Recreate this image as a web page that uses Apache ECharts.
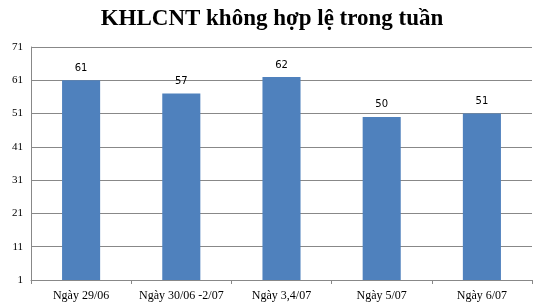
<!DOCTYPE html>
<html><head><meta charset="utf-8">
<script src="https://cdn.jsdelivr.net/npm/echarts@6/dist/echarts.min.js"></script>
<style>html,body{margin:0;padding:0;background:#fff}#c{width:544px;height:308px}</style>
</head><body><div id="c"></div>
<script>
const categories = ["Ngày 29/06", "Ngày 30/06 -2/07", "Ngày 3,4/07", "Ngày 5/07", "Ngày 6/07"];
const values = [61, 57, 62, 50, 51];
const title = "KHLCNT không hợp lệ trong tuần";
const chart = echarts.init(document.getElementById('c'));
chart.setOption({
  animation: false,
  title: {text: title, left: 'center', top: 3,
    textStyle: {fontFamily: 'Liberation Serif', fontSize: 23, fontWeight: 'bold', color: '#000'}},
  grid: {left: 31, right: 12, top: 47, bottom: 28},
  xAxis: {type: 'category', data: categories,
    axisLine: {lineStyle: {color: '#888'}},
    axisTick: {show: true, length: 4, lineStyle: {color: '#888'}},
    axisLabel: {interval: 0, fontFamily: 'Liberation Serif', fontSize: 12, color: '#000', margin: 10}},
  yAxis: {type: 'value', min: 1, max: 71, interval: 10,
    axisLine: {show: true, lineStyle: {color: '#888'}},
    axisTick: {show: false},
    splitLine: {lineStyle: {color: '#888'}},
    axisLabel: {fontFamily: 'Liberation Serif', fontSize: 11, color: '#000', margin: 8}},
  series: [{type: 'bar', data: values, barWidth: '38%',
    itemStyle: {color: '#4f81bd'},
    label: {show: true, position: 'top', distance: 7, fontFamily: 'DejaVu Sans', fontSize: 10, color: '#000'}}]
});
</script></body></html>
